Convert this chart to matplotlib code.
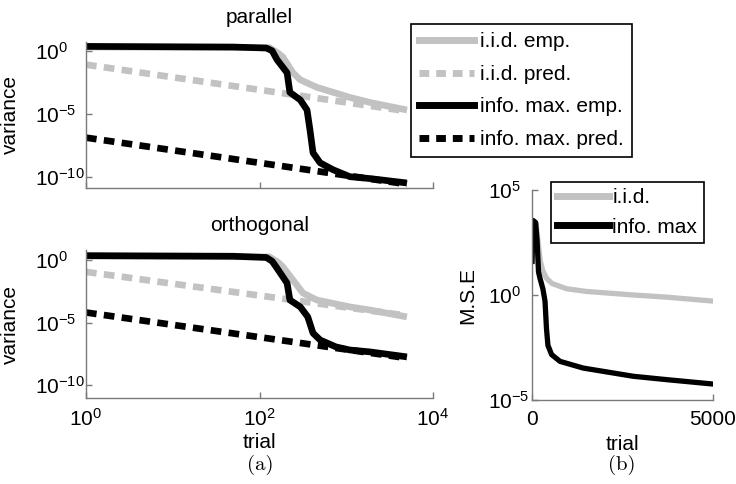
import numpy as np
import matplotlib
matplotlib.use('Agg')
import matplotlib.pyplot as plt
from matplotlib.ticker import NullLocator
from matplotlib.lines import Line2D

plt.rcParams['font.family'] = ['Liberation Sans', 'DejaVu Sans']
plt.rcParams['mathtext.fontset'] = 'custom'
plt.rcParams['mathtext.rm'] = 'Liberation Sans'
plt.rcParams['mathtext.it'] = 'Liberation Sans:italic'
plt.rcParams['mathtext.bf'] = 'Liberation Sans:bold'
plt.rcParams['font.size'] = 15

# ---------------- data ----------------
labels_a = ['i.i.d. emp.', 'i.i.d. pred.', 'info. max. emp.', 'info. max. pred.']
labels_b = ['i.i.d.', 'info. max']
title_top = 'parallel'
title_bot = 'orthogonal'

# parallel (log10 of variance)
par_iid_emp_t = [1, 130, 165, 186, 243, 295, 458, 1100, 1870, 5000]
par_iid_emp_log = [0.3, 0.25, -0.2, -0.5, -1.75, -2.3, -2.9, -3.7, -4.1, -4.7]
par_iid_pred_t = [1, 5000]
par_iid_pred_log = [-1.1, -4.8]
par_info_emp_t = [1, 50, 120, 140, 159, 208, 224, 295, 353, 382, 414, 500, 705, 1100, 1870, 5000]
par_info_emp_log = [0.35, 0.3, 0.22, 0.0, -0.7, -1.75, -3.3, -3.9, -4.7, -6.3, -8.1, -8.9, -9.45, -10.0, -10.15, -10.5]
par_info_pred_t = [1, 5000]
par_info_pred_log = [-6.9, -10.6]

# orthogonal (log10 of variance)
ort_iid_emp_t = [1, 130, 165, 186, 243, 317, 458, 1100, 1870, 5000]
ort_iid_emp_log = [0.3, 0.25, -0.2, -0.55, -1.6, -2.65, -3.2, -3.75, -4.0, -4.55]
ort_iid_pred_t = [1, 5000]
ort_iid_pred_log = [-0.95, -4.45]
ort_info_emp_t = [1, 50, 120, 140, 159, 208, 224, 295, 360, 414, 500, 760, 1100, 1870, 5000]
ort_info_emp_log = [0.35, 0.3, 0.2, -0.1, -0.65, -1.85, -3.2, -3.75, -4.55, -5.85, -6.4, -6.95, -7.2, -7.35, -7.75]
ort_info_pred_t = [1, 5000]
ort_info_pred_log = [-4.2, -7.85]

# M.S.E (log10)
mse_iid_t = [1, 40, 110, 170, 230, 300, 400, 550, 950, 1500, 2800, 3700, 5000]
mse_iid_log = [1.6, 3.5, 3.4, 2.5, 1.6, 1.15, 0.8, 0.55, 0.3, 0.17, 0.0, -0.1, -0.29]
mse_info_t = [1, 30, 100, 140, 180, 220, 300, 360, 400, 440, 543, 773, 1416, 2796, 3716, 5000]
mse_info_log = [1.6, 3.55, 3.45, 2.6, 1.1, 0.8, 0.3, -0.3, -1.6, -2.4, -2.84, -3.16, -3.48, -3.87, -4.03, -4.24]

# ---------------- styling ----------------
GRAY = '#c2c2c2'
SPINE = '#7a7a7a'
LW = 4.8
DASH = (0, (1.6, 1.1))

W, H = 736, 484
fig = plt.figure(figsize=(W / 100, H / 100), dpi=100)

def fr(x0, y_top, x1, y_bot):
    return [x0 / W, 1 - y_bot / H, (x1 - x0) / W, (y_bot - y_top) / H]

ax1 = fig.add_axes(fr(86, 42, 433, 188))
ax2 = fig.add_axes(fr(86, 250, 433, 398))
ax3 = fig.add_axes(fr(532, 190, 713, 400))

def style(ax):
    for s in ['top', 'right']:
        ax.spines[s].set_visible(False)
    for s in ['left', 'bottom']:
        ax.spines[s].set_color(SPINE)
        ax.spines[s].set_linewidth(1.0)
    ax.tick_params(direction='in', length=4, width=1, color=SPINE, labelsize=15)
    ax.tick_params(axis='x', pad=7)
    ax.xaxis.set_minor_locator(NullLocator())
    ax.yaxis.set_minor_locator(NullLocator())

def left_panel(ax, d, ylim):
    (t1, l1), (t2, l2), (t3, l3), (t4, l4) = d
    ax.plot(t1, 10 ** np.array(l1), color=GRAY, lw=LW, solid_capstyle='butt', solid_joinstyle='round')
    ax.plot(t2, 10 ** np.array(l2), color=GRAY, lw=LW, ls=DASH, dash_capstyle='butt')
    ax.plot(t3, 10 ** np.array(l3), color='black', lw=LW, solid_capstyle='butt', solid_joinstyle='round')
    ax.plot(t4, 10 ** np.array(l4), color='black', lw=LW, ls=DASH, dash_capstyle='butt')
    ax.set_xscale('log')
    ax.set_yscale('log')
    ax.set_xlim(1, 1e4)
    ax.set_ylim(10 ** ylim[0], 10 ** ylim[1])
    ax.set_xticks([1, 1e2, 1e4])
    ax.set_yticks([1e-10, 1e-5, 1e0])
    style(ax)
    ax.tick_params(axis='y', pad=37)
    for lab in ax.get_yticklabels():
        lab.set_horizontalalignment('left')
    ax.set_ylabel('variance', fontsize=15)
    ax.yaxis.set_label_coords(-0.19, 0.5)

left_panel(ax1, [(par_iid_emp_t, par_iid_emp_log), (par_iid_pred_t, par_iid_pred_log),
                 (par_info_emp_t, par_info_emp_log), (par_info_pred_t, par_info_pred_log)],
           (-10.9, 0.7))
left_panel(ax2, [(ort_iid_emp_t, ort_iid_emp_log), (ort_iid_pred_t, ort_iid_pred_log),
                 (ort_info_emp_t, ort_info_emp_log), (ort_info_pred_t, ort_info_pred_log)],
           (-11.04, 0.8))
ax1.tick_params(axis='x', labelbottom=False)
ax1.set_title(title_top, fontsize=15, pad=14)
ax2.set_title(title_bot, fontsize=15, pad=14)
ax2.set_xlabel('trial', fontsize=15)
ax2.xaxis.set_label_coords(0.5, -0.236)

# right panel
ax3.plot(mse_iid_t, 10 ** np.array(mse_iid_log), color=GRAY, lw=3.8, solid_joinstyle='round')
ax3.plot(mse_info_t, 10 ** np.array(mse_info_log), color='black', lw=3.8, solid_joinstyle='round')
ax3.set_yscale('log')
ax3.set_xlim(0, 5000)
ax3.set_ylim(1e-5, 1e5)
ax3.set_xticks([0, 5000])
ax3.set_yticks([1e-5, 1e0, 1e5])
style(ax3)
ax3.tick_params(axis='y', pad=32)
for lab in ax3.get_yticklabels():
    lab.set_horizontalalignment('left')
ax3.set_ylabel('M.S.E', fontsize=15)
ax3.yaxis.set_label_coords(-0.30, 0.5)
ax3.set_xlabel('trial', fontsize=15)
ax3.xaxis.set_label_coords(0.5, -0.167)

# legends
hA = [Line2D([], [], color=GRAY, lw=5),
      Line2D([], [], color=GRAY, lw=5, ls=(0, (1.4, 1.0))),
      Line2D([], [], color='black', lw=5),
      Line2D([], [], color='black', lw=5, ls=(0, (1.4, 1.0)))]
legA = fig.legend(hA, labels_a, loc='upper left', bbox_to_anchor=(411 / W, 1 - 24 / H),
                  bbox_transform=fig.transFigure, fancybox=False, edgecolor='black',
                  framealpha=1, borderaxespad=0, handlelength=2.6, handletextpad=0.3,
                  borderpad=0.4, labelspacing=0.65, fontsize=15)
legA.get_frame().set_linewidth(1.2)

hB = [Line2D([], [], color=GRAY, lw=5), Line2D([], [], color='black', lw=5)]
legB = ax3.legend(hB, labels_b, loc='upper left', bbox_to_anchor=(551 / W, 1 - 182 / H),
                  bbox_transform=fig.transFigure, fancybox=False, edgecolor='black',
                  framealpha=1, borderaxespad=0, handlelength=2.5, handletextpad=0.15,
                  borderpad=0.3, labelspacing=0.5, fontsize=15)
legB.get_frame().set_linewidth(1.2)

fig.text(260 / W, 1 - 465 / H, '(a)', family='cmr10', fontsize=15, ha='center', va='center')
fig.text(622 / W, 1 - 465 / H, '(b)', family='cmr10', fontsize=15, ha='center', va='center')

fig.savefig('out.png', dpi=100)
